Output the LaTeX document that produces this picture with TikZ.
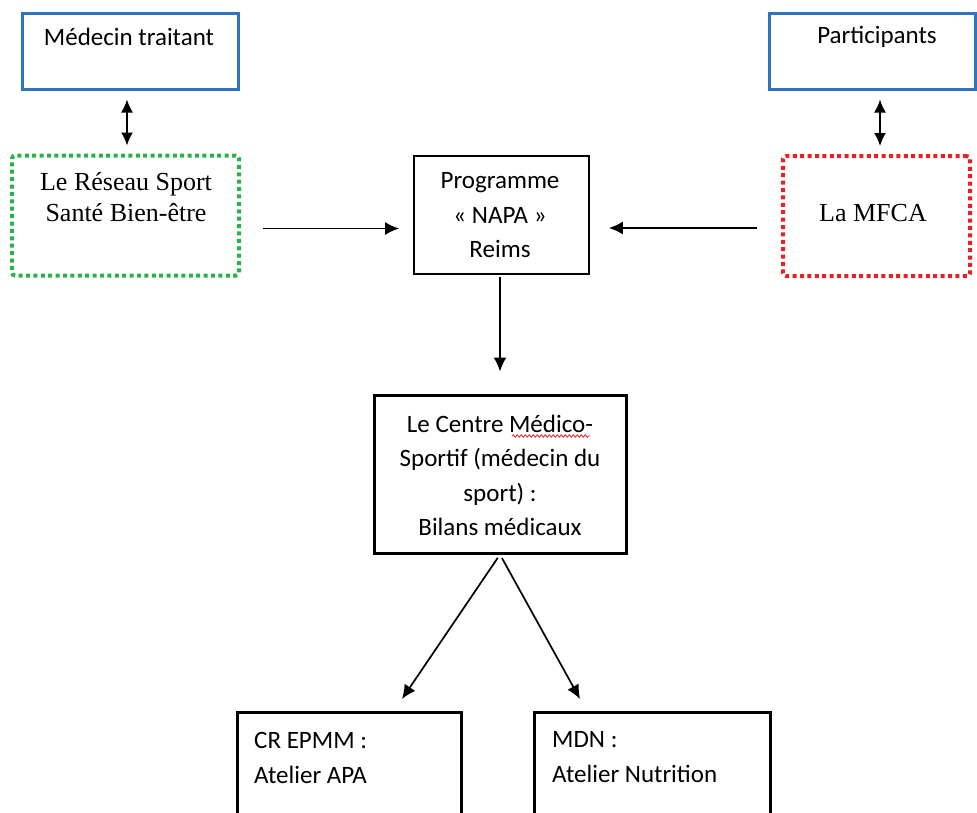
\documentclass[tikz,border=0pt]{standalone}
\usepackage{fontspec}
\setmainfont{Carlito}
\newfontfamily\timesfont{Liberation Serif}
\usetikzlibrary{arrows.meta,decorations.pathmorphing}

\definecolor{boxblue}{RGB}{46,117,190}
\definecolor{boxgreen}{RGB}{40,178,75}
\definecolor{boxred}{RGB}{235,30,35}

\tikzset{
  bluebox/.style={draw=boxblue, line width=3pt, inner sep=0pt},
  greendots/.style={draw=boxgreen, line width=4pt, dash pattern=on 4pt off 3.4pt, rounded corners=3pt, inner sep=0pt},
  reddots/.style={draw=boxred, line width=4pt, dash pattern=on 4pt off 3.4pt, rounded corners=3pt, inner sep=0pt},
  thinbox/.style={draw, line width=1.7pt, inner sep=0pt},
  thickbox/.style={draw, line width=3pt, inner sep=0pt},
  txt/.style={font=\fontsize{25}{35}\selectfont, inner sep=0pt},
  serif/.style={font=\timesfont\fontsize{26}{31}\selectfont, inner sep=0pt},
  arr/.style={line width=1.7pt, -{Latex[length=14pt,width=13pt]}},
  dblarr/.style={line width=1.7pt, {Latex[length=13pt,width=12pt]}-{Latex[length=13pt,width=12pt]}}
}

\begin{document}
\begin{tikzpicture}[x=1pt, y=-1pt]

\clip (0,0) rectangle (977,812);

% Top boxes
\node[bluebox, minimum width=216pt, minimum height=76pt] (medecin) at (130,51) {};
\node[bluebox, minimum width=206pt, minimum height=76pt] (participants) at (872,51) {};

% Dotted partner boxes
\node[greendots, minimum width=227pt, minimum height=120pt] (reseau) at (125.5,215.5) {};
\node[reddots, minimum width=187pt, minimum height=120pt] (mfca) at (876.5,216) {};

% Programme in the middle
\node[thinbox, minimum width=175pt, minimum height=118pt] (programme) at (501.5,215) {};

% Medical centre
\node[thickbox, minimum width=252pt, minimum height=158pt] (centre) at (500,474) {};

% Workshops (cut by the bottom edge)
\node[thickbox, minimum width=224pt, minimum height=128pt] (apa) at (349,776) {};
\node[thickbox, minimum width=236pt, minimum height=128pt] (mdn) at (652,776) {};

% Texts
\node[txt] (medecintxt) at (129,37) {Médecin traitant};
\node[txt] (participantstxt) at (877,37) {Participants};
\node[serif, align=center] (reseautxt) at (126,197) {Le Réseau Sport\\Santé Bien-être};
\node[serif] (mfcatxt) at (873,213) {La MFCA};
\node[txt, align=center, font=\fontsize{25}{34.5}\selectfont] (programmetxt) at (500,215.5) {Programme\\« NAPA »\\Reims};
\node[txt, align=center, font=\fontsize{25}{34.3}\selectfont] (centretxt) at (500,475.5) {Le Centre Médico-\\Sportif (médecin du\\sport) :\\Bilans médicaux};
\node[txt, align=left, anchor=west] (apatxt) at (254,757.5) {CR EPMM :\\Atelier APA};
\node[txt, align=left, anchor=west] (mdntxt) at (552,757.5) {MDN :\\Atelier Nutrition};

% Spelling mark under Médico
\draw[boxred, line width=0.8pt, decorate, decoration={snake, amplitude=1.2pt, segment length=4pt}] (512,436) -- (590,436);

% Double arrows to the top boxes
\draw[dblarr, shorten <=9pt, shorten >=8pt] ([xshift=-3pt]medecin.south) -- ([xshift=-3pt]medecin.south |- reseau.north);
\draw[dblarr, shorten <=9pt, shorten >=8pt] ([xshift=8pt]participants.south) -- ([xshift=8pt]participants.south |- mfca.north);

% Arrows into the programme
\draw[arr, shorten <=22pt, shorten >=14pt] ([yshift=-13pt]reseau.east) -- ([yshift=-13pt]reseau.east -| programme.west);
\draw[arr, shorten <=24pt, shorten >=19pt] ([yshift=-12pt]mfca.west) -- ([yshift=-12pt]mfca.west -| programme.east);

% Programme to centre
\draw[arr, shorten <=2pt, shorten >=22pt] (programme.south -| centre.north) -- (centre.north);

% Centre to workshops
\coordinate (apatip) at (402,699);
\coordinate (mdntip) at (580,699);
\draw[arr, shorten <=4pt] (centre.south) -- (apatip);
\draw[arr, shorten <=4pt] (centre.south) -- (mdntip);

\end{tikzpicture}
\end{document}
